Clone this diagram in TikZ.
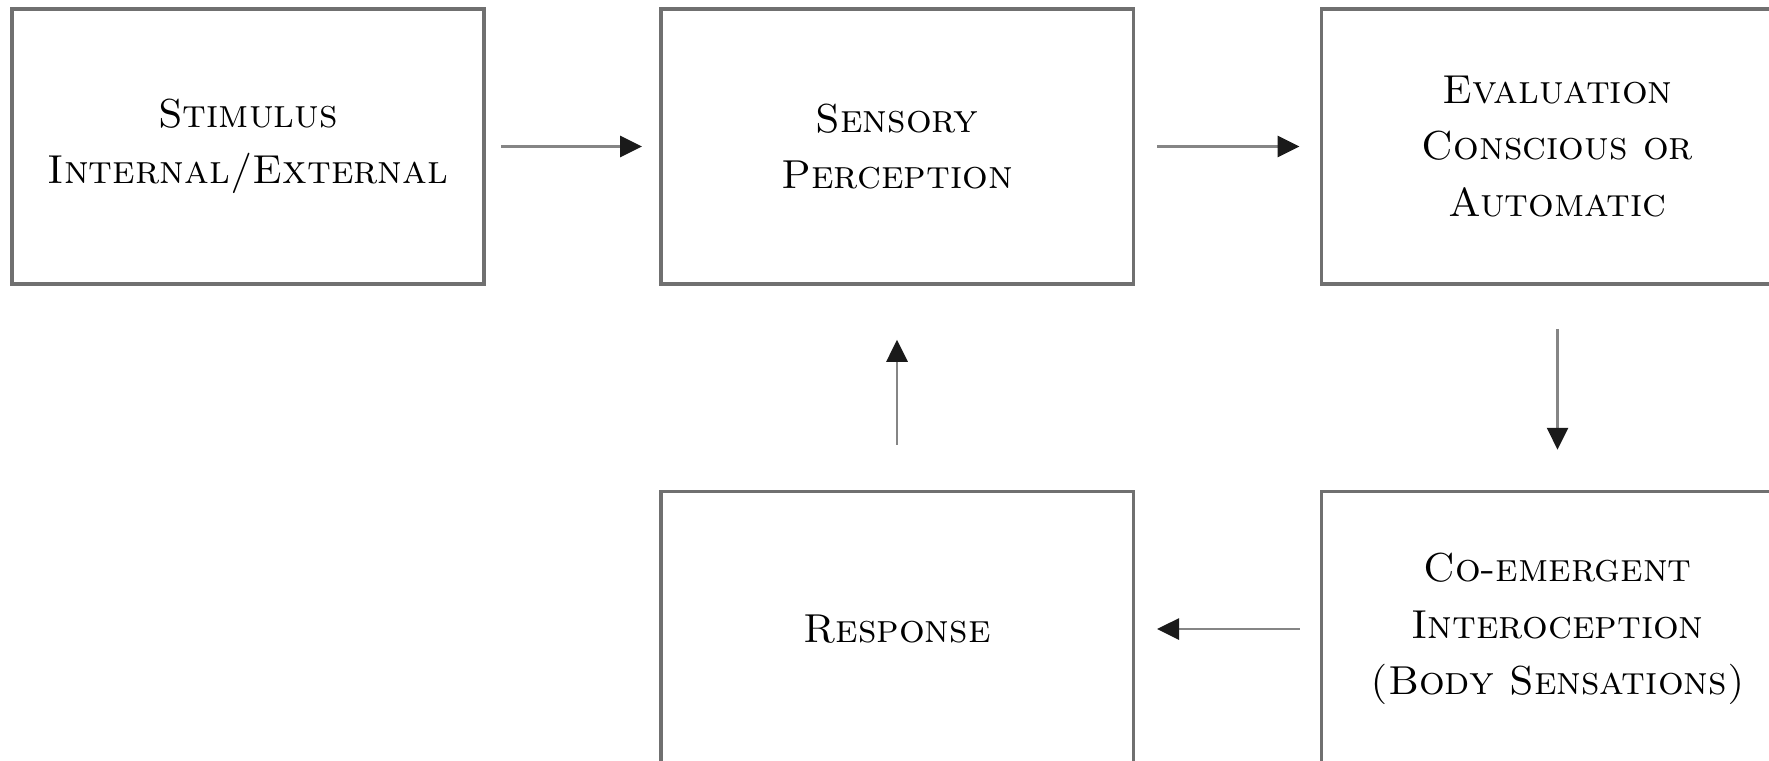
\documentclass[tikz,border=0pt]{standalone}
\usepackage{xcolor}
\usepackage{tikz}
\usetikzlibrary{arrows.meta, positioning}
\definecolor{boxLine}{HTML}{707070}
\definecolor{arrowLine}{HTML}{858585}
\definecolor{tipBlack}{HTML}{1A1A1A}

\begin{document}
\begin{tikzpicture}[
    node distance=3.46cm,
    stagebox/.style={draw=boxLine, line width=2pt, minimum width=9.45cm, minimum height=5.5cm, inner sep=0pt, font=\fontsize{23}{32}\selectfont\scshape, align=center, text=black},
    flow/.style={draw=arrowLine, line width=1.6pt, -{Triangle[length=0.44cm, width=0.42cm, color=tipBlack]}},
]
    \clip (0,0) rectangle (35.38,-15.22);

    \node[stagebox] (stimulus) at (4.96,-2.93) {Stimulus\\Internal/External};
    \node[stagebox, right=3.46cm of stimulus] (perception) {Sensory\\Perception};
    \node[stagebox, right=3.69cm of perception] (evaluation) {Evaluation\\Conscious or\\Automatic};
    \node[stagebox, below=4.08cm of evaluation] (intero) {Co-emergent\\Interoception\\(Body Sensations)};
    \node[stagebox, below=4.08cm of perception] (response) {Response};

    \draw[flow, shorten <=0.3cm, shorten >=0.34cm] (stimulus) -- (perception);
    \draw[flow, shorten <=0.44cm, shorten >=0.4cm] (perception) -- (evaluation);
    \draw[flow, shorten <=0.86cm, shorten >=0.8cm] (evaluation) -- (intero);
    \draw[flow, shorten <=0.4cm, shorten >=0.44cm] (intero) -- (response);
    \draw[flow, shorten <=0.9cm, shorten >=1.08cm] (response) -- (perception);
\end{tikzpicture}
\end{document}
